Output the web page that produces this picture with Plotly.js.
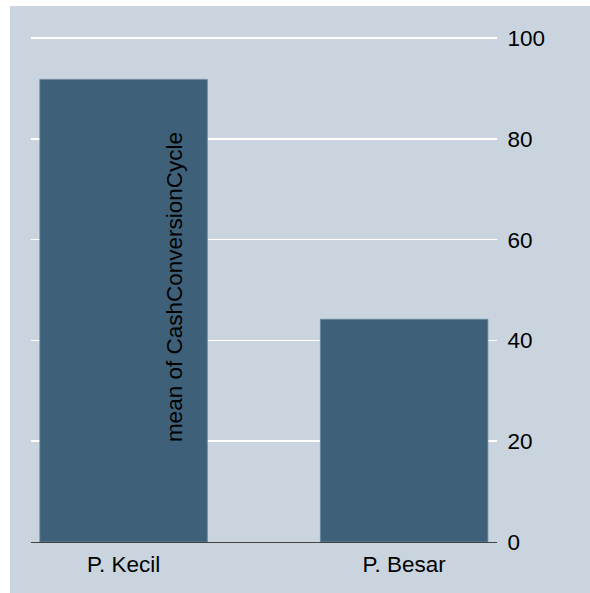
<!DOCTYPE html>
<html>
<head>
<meta charset="utf-8">
<script src="https://cdn.plot.ly/plotly-3.0.1.min.js"></script>
<style>
html,body{margin:0;padding:0;background:#ffffff;overflow:hidden;width:590px;height:593px;}
#chart{position:absolute;left:10px;top:6px;width:580px;height:587px;}
</style>
</head>
<body>
<div id="chart"></div>
<script>
const categories = ["P. Kecil", "P. Besar"];
const meanCCC = [91.8, 44.2];
const yTicks = [0, 20, 40, 60, 80, 100];
const yTitle = "mean of CashConversionCycle";

const bg = "#c9d4df";
const barColor = "#3e6179";

const trace = {
  type: "bar",
  x: categories,
  y: meanCCC,
  width: 0.597,
  marker: {color: barColor, line: {color: "#6a879c", width: 0.8}},
  hoverinfo: "skip"
};

const layout = {
  width: 580,
  height: 587,
  margin: {l: 21, r: 93, t: 22, b: 51, pad: 0},
  paper_bgcolor: bg,
  plot_bgcolor: bg,
  showlegend: false,
  font: {family: "Liberation Sans, Arial, sans-serif", size: 22.5, color: "#000000"},
  xaxis: {
    type: "category",
    range: [-0.33, 1.331],
    showgrid: false,
    zeroline: false,
    showline: true,
    linecolor: "#444444",
    linewidth: 1,
    ticks: "",
    ticklabelstandoff: 2,
    tickfont: {size: 22.5, color: "#000000"},
    fixedrange: true
  },
  yaxis: {
    side: "right",
    range: [0, 102],
    tickvals: yTicks,
    ticktext: yTicks.map(String),
    showgrid: true,
    gridcolor: "#ffffff",
    gridwidth: 1.6,
    zeroline: false,
    showline: false,
    ticks: "outside",
    ticklen: 5,
    tickcolor: "rgba(0,0,0,0)",
    tickfont: {size: 22.5, color: "#000000"},
    fixedrange: true
  },
  annotations: [{
    text: yTitle,
    xref: "paper", yref: "paper",
    x: 0.307, y: 0.496,
    xanchor: "center", yanchor: "middle",
    textangle: -90,
    showarrow: false,
    font: {size: 22.5, color: "#000000"}
  }]
};

Plotly.newPlot("chart", [trace], layout, {displayModeBar: false, staticPlot: true});
</script>
</body>
</html>
